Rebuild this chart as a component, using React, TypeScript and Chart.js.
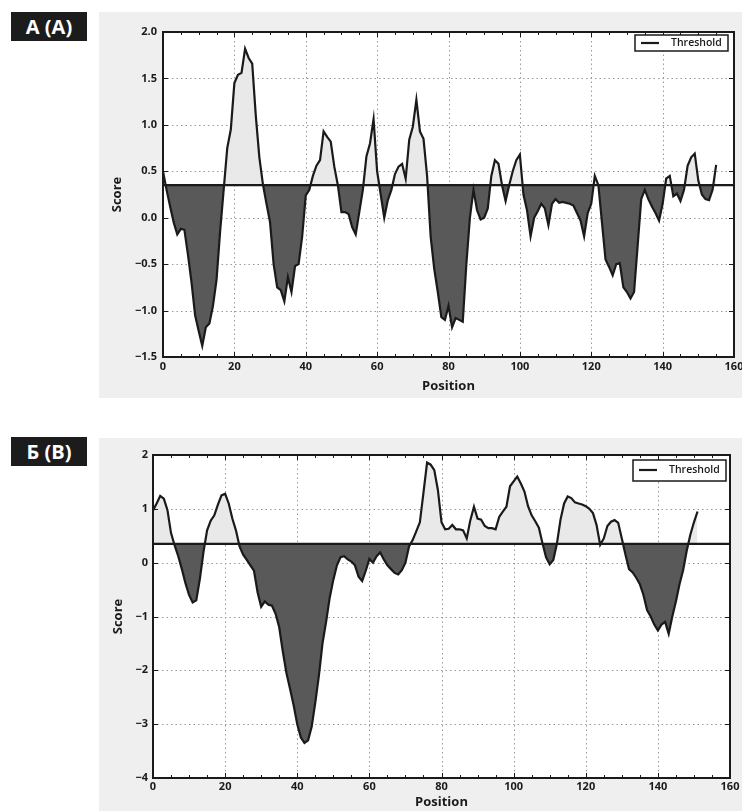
import React, { useEffect, useRef } from 'react';
import { Chart, registerables } from 'chart.js';

Chart.register(...registerables);

// ---------- data ----------
const xTicks = [0, 20, 40, 60, 80, 100, 120, 140, 160];
const xMinorStep = 5;
const yTicksA = [-1.5, -1.0, -0.5, 0, 0.5, 1.0, 1.5, 2.0];
const yTicksB = [-4, -3, -2, -1, 0, 1, 2];
const thresholdA = 0.35;
const thresholdB = 0.35;
const legendLabel = 'Threshold';
const xTitle = 'Position';
const yTitle = 'Score';
const panelLabelA = 'А (A)';
const panelLabelB = 'Б (B)';

const scoresA = [
  0.50, 0.30, 0.12, -0.05, -0.18, -0.12, -0.13, -0.40, -0.70, -1.05,
  -1.22, -1.38, -1.18, -1.14, -0.95, -0.67, -0.15, 0.30, 0.75, 0.95,
  1.45, 1.54, 1.56, 1.82, 1.72, 1.66, 1.10, 0.65, 0.36, 0.15,
  -0.05, -0.50, -0.75, -0.78, -0.90, -0.64, -0.80, -0.52, -0.50, -0.20,
  0.24, 0.30, 0.45, 0.56, 0.62, 0.93, 0.87, 0.82, 0.55, 0.35,
  0.06, 0.06, 0.04, -0.10, -0.18, 0.06, 0.30, 0.66, 0.80, 1.06,
  0.50, 0.25, 0.00, 0.19, 0.30, 0.47, 0.55, 0.58, 0.42, 0.84,
  0.98, 1.27, 0.93, 0.85, 0.45, -0.20, -0.55, -0.80, -1.07, -1.10,
  -0.95, -1.18, -1.08, -1.10, -1.12, -0.50, 0.00, 0.30, 0.08, -0.02,
  0.00, 0.10, 0.45, 0.62, 0.58, 0.35, 0.18, 0.35, 0.50, 0.62,
  0.68, 0.25, 0.08, -0.20, 0.00, 0.07, 0.15, 0.10, -0.08, 0.15,
  0.20, 0.16, 0.17, 0.16, 0.15, 0.13, 0.05, -0.03, -0.20, 0.05,
  0.15, 0.45, 0.35, -0.05, -0.45, -0.53, -0.62, -0.50, -0.49, -0.75,
  -0.80, -0.87, -0.80, -0.30, 0.20, 0.30, 0.20, 0.12, 0.05, -0.03,
  0.15, 0.42, 0.45, 0.23, 0.26, 0.18, 0.30, 0.56, 0.65, 0.69,
  0.40, 0.25, 0.20, 0.19, 0.30, 0.57,
];

const scoresB = [
  0.97, 1.10, 1.24, 1.19, 0.98, 0.55, 0.32, 0.12, -0.12, -0.38,
  -0.60, -0.74, -0.70, -0.30, 0.20, 0.60, 0.78, 0.88, 1.08, 1.25,
  1.28, 1.10, 0.82, 0.60, 0.30, 0.15, 0.05, -0.05, -0.15, -0.55,
  -0.82, -0.72, -0.78, -0.80, -0.95, -1.20, -1.65, -2.05, -2.34, -2.65,
  -3.00, -3.25, -3.35, -3.30, -3.05, -2.60, -2.10, -1.50, -1.10, -0.65,
  -0.32, -0.05, 0.10, 0.12, 0.06, 0.02, -0.05, -0.26, -0.34, -0.15,
  0.07, 0.00, 0.12, 0.19, 0.06, -0.05, -0.12, -0.19, -0.22, -0.14,
  0.00, 0.30, 0.42, 0.58, 0.75, 1.30, 1.86, 1.82, 1.72, 1.35,
  0.75, 0.62, 0.63, 0.70, 0.62, 0.62, 0.60, 0.45, 0.79, 1.04,
  0.82, 0.80, 0.68, 0.64, 0.64, 0.62, 0.85, 0.95, 1.04, 1.42,
  1.51, 1.60, 1.47, 1.32, 1.05, 0.88, 0.77, 0.65, 0.36, 0.10,
  -0.03, 0.05, 0.35, 0.80, 1.10, 1.23, 1.20, 1.12, 1.10, 1.08,
  1.05, 1.00, 0.92, 0.70, 0.33, 0.45, 0.68, 0.76, 0.79, 0.74,
  0.45, 0.15, -0.12, -0.18, -0.28, -0.40, -0.60, -0.88, -1.00, -1.15,
  -1.26, -1.15, -1.10, -1.32, -1.00, -0.72, -0.40, -0.14, 0.22, 0.52,
  0.75, 0.95,
];

// ---------- styling ----------
const FONT = '"Open Sans", "DejaVu Sans", sans-serif';
const INK = '#1a1a1a';
const BG = '#efefef';
const FILL_ABOVE = '#e9e9e9';
const FILL_BELOW = '#595959';

type Layout = {
  left: number; top: number; width: number; height: number;
  padTop: number; padRight: number; yAxisW: number; xAxisH: number;
  yTickPad: number; xTickPad: number; yTitlePad: number; xTitlePad: number;
  labelTop: number;
  legend: { right: number; top: number; w: number; h: number; lineY: number };
};

const layoutA: Layout = {
  left: 99, top: 12, width: 643, height: 386,
  padTop: 20, padRight: 8, yAxisW: 64, xAxisH: 41,
  yTickPad: 6, xTickPad: 3, yTitlePad: 10, xTitlePad: 4,
  labelTop: 12,
  legend: { right: 6, top: 3, w: 93, h: 16, lineY: 8 },
};
const layoutB: Layout = {
  left: 99, top: 438, width: 643, height: 373,
  padTop: 17, padRight: 12, yAxisW: 54, xAxisH: 33,
  yTickPad: 5, xTickPad: 2, yTitlePad: 11, xTitlePad: 1,
  labelTop: 437,
  legend: { right: 4, top: 5, w: 93, h: 21, lineY: 10 },
};

const fmtMinus = (s: string) => s.replace('-', '\u2212');

function makePlugin(L: Layout, yTicks: number[]) {
  return {
    id: 'mplFrame',
    beforeDraw(chart: any) {
      const { ctx, chartArea: a } = chart;
      ctx.save();
      ctx.fillStyle = '#ffffff';
      ctx.fillRect(a.left, a.top, a.right - a.left, a.bottom - a.top);
      ctx.restore();
    },
    beforeDatasetsDraw(chart: any) {
      const { ctx, chartArea: a, scales } = chart;
      const xs = scales.x, ys = scales.y;
      ctx.save();
      ctx.strokeStyle = '#999999';
      ctx.lineWidth = 1;
      ctx.setLineDash([1.5, 3]);
      xTicks.slice(1, -1).forEach((v) => {
        const px = Math.round(xs.getPixelForValue(v)) + 0.5;
        ctx.beginPath(); ctx.moveTo(px, a.top); ctx.lineTo(px, a.bottom); ctx.stroke();
      });
      yTicks.slice(1, -1).forEach((v) => {
        const py = Math.round(ys.getPixelForValue(v)) + 0.5;
        ctx.beginPath(); ctx.moveTo(a.left, py); ctx.lineTo(a.right, py); ctx.stroke();
      });
      ctx.restore();
    },
    afterDraw(chart: any) {
      const { ctx, chartArea: a, scales } = chart;
      const xs = scales.x, ys = scales.y;
      ctx.save();
      ctx.strokeStyle = INK;
      ctx.lineWidth = 1;
      const xmin = xTicks[0], xmax = xTicks[xTicks.length - 1];
      for (let v = xmin; v <= xmax; v += xMinorStep) {
        const major = xTicks.includes(v);
        const len = major ? 5 : 3;
        const px = Math.round(xs.getPixelForValue(v)) + 0.5;
        ctx.beginPath();
        ctx.moveTo(px, a.bottom); ctx.lineTo(px, a.bottom - len);
        ctx.moveTo(px, a.top); ctx.lineTo(px, a.top + len);
        ctx.stroke();
      }
      yTicks.forEach((v) => {
        const py = Math.round(ys.getPixelForValue(v)) + 0.5;
        ctx.beginPath();
        ctx.moveTo(a.left, py); ctx.lineTo(a.left + 5, py);
        ctx.moveTo(a.right, py); ctx.lineTo(a.right - 5, py);
        ctx.stroke();
      });
      ctx.lineWidth = 2;
      ctx.strokeRect(a.left, a.top, a.right - a.left, a.bottom - a.top);
      const lg = L.legend;
      const bx = a.right - lg.right - lg.w;
      const by = a.top + lg.top;
      ctx.fillStyle = '#ffffff';
      ctx.fillRect(bx, by, lg.w, lg.h);
      ctx.lineWidth = 1.5;
      ctx.strokeStyle = INK;
      ctx.strokeRect(bx, by, lg.w, lg.h);
      ctx.lineWidth = 2.2;
      ctx.beginPath();
      ctx.moveTo(bx + 6, by + lg.lineY); ctx.lineTo(bx + 24, by + lg.lineY);
      ctx.stroke();
      ctx.fillStyle = INK;
      ctx.font = `600 10.5px ${FONT}`;
      ctx.textBaseline = 'middle';
      ctx.textAlign = 'left';
      ctx.fillText(legendLabel, bx + 36, by + lg.lineY);
      ctx.restore();
    },
  };
}

type PanelProps = {
  L: Layout; scores: number[]; threshold: number; yTicks: number[];
  yFmt: (v: number) => string; label: string;
};

function Panel({ L, scores, threshold, yTicks, yFmt, label }: PanelProps) {
  const ref = useRef<HTMLCanvasElement | null>(null);
  useEffect(() => {
    if (!ref.current) return;
    const points = scores.map((v, i) => ({ x: i, y: v }));
    const xmin = xTicks[0], xmax = xTicks[xTicks.length - 1];
    const chart = new Chart(ref.current, {
      type: 'line',
      data: {
        datasets: [
          {
            label: legendLabel,
            data: [{ x: xmin, y: threshold }, { x: xmax, y: threshold }],
            borderColor: INK,
            borderWidth: 2.2,
            pointRadius: 0,
            fill: false,
          },
          {
            label: 'Score',
            data: points,
            borderColor: INK,
            borderWidth: 2.2,
            pointRadius: 0,
            tension: 0,
            fill: { target: { value: threshold }, above: FILL_ABOVE, below: FILL_BELOW },
          },
        ],
      },
      options: {
        animation: false,
        responsive: false,
        devicePixelRatio: 1,
        layout: { padding: { top: L.padTop, right: L.padRight, left: 0, bottom: 0 } },
        plugins: { legend: { display: false }, tooltip: { enabled: false } },
        scales: {
          x: {
            type: 'linear',
            min: xmin,
            max: xmax,
            grid: { display: false, drawTicks: false },
            border: { display: false },
            afterBuildTicks: (s: any) => { s.ticks = xTicks.map((v) => ({ value: v })); },
            afterFit: (s: any) => { s.height = L.xAxisH; s.paddingLeft = 0; s.paddingRight = 0; },
            ticks: {
              padding: L.xTickPad,
              color: INK,
              maxRotation: 0,
              font: { family: FONT, size: 11, weight: 'bold' },
              callback: (v: any) => String(v),
            },
            title: {
              display: true,
              text: xTitle,
              color: INK,
              padding: { top: 0, bottom: L.xTitlePad },
              font: { family: FONT, size: 13, weight: 'bold' },
            },
          },
          y: {
            type: 'linear',
            min: yTicks[0],
            max: yTicks[yTicks.length - 1],
            grid: { display: false, drawTicks: false },
            border: { display: false },
            afterBuildTicks: (s: any) => { s.ticks = yTicks.map((v) => ({ value: v })); },
            afterFit: (s: any) => { s.width = L.yAxisW; s.paddingTop = 0; s.paddingBottom = 0; },
            ticks: {
              padding: L.yTickPad,
              color: INK,
              font: { family: FONT, size: 11, weight: 'bold' },
              callback: (v: any) => fmtMinus(yFmt(Number(v))),
            },
            title: {
              display: true,
              text: yTitle,
              color: INK,
              padding: { top: L.yTitlePad, bottom: 0 },
              font: { family: FONT, size: 13, weight: 'bold' },
            },
          },
        },
      },
      plugins: [makePlugin(L, yTicks)],
    } as any);
    return () => chart.destroy();
  }, [L, scores, threshold, yTicks, yFmt]);

  return (
    <>
      <div
        style={{
          position: 'absolute', left: L.left, top: L.top, width: L.width, height: L.height,
          background: BG,
        }}
      >
        <canvas ref={ref} width={L.width} height={L.height} style={{ display: 'block' }} />
      </div>
      <div
        style={{
          position: 'absolute', left: 11, top: L.labelTop, width: 76, height: 29,
          background: '#1c1c1c', color: '#ffffff', fontFamily: FONT, fontWeight: 700,
          fontSize: 20, lineHeight: '29px', textAlign: 'center',
        }}
      >
        {label}
      </div>
    </>
  );
}

const fmtA = (v: number) => v.toFixed(1);
const fmtB = (v: number) => String(v);

export default function App() {
  return (
    <div style={{ position: 'absolute', left: 0, top: 0, width: 742, height: 811, background: '#ffffff', overflow: 'hidden' }}>
      <Panel L={layoutA} scores={scoresA} threshold={thresholdA} yTicks={yTicksA} yFmt={fmtA} label={panelLabelA} />
      <Panel L={layoutB} scores={scoresB} threshold={thresholdB} yTicks={yTicksB} yFmt={fmtB} label={panelLabelB} />
    </div>
  );
}
